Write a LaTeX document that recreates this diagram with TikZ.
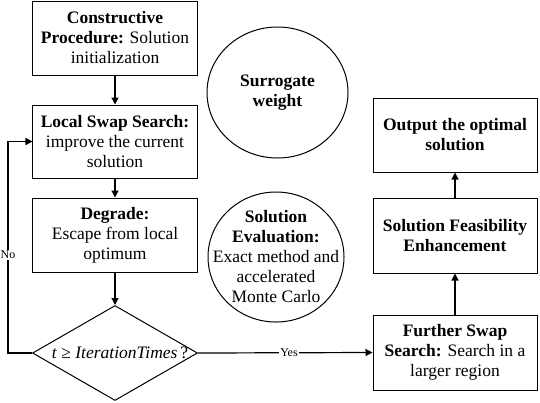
\documentclass[tikz,border=0pt]{standalone}
\usepackage{fontspec}
\setmainfont{Liberation Serif}
\usetikzlibrary{shapes.geometric,arrows.meta}
\begin{document}
\begin{tikzpicture}[x=1bp,y=-1bp,
  every node/.style={font=\fontsize{17.5bp}{20bp}\selectfont, align=center, inner sep=0pt},
  box/.style={draw, line width=1bp, minimum width=164bp},
  oval/.style={draw, line width=1bp, ellipse},
  conn/.style={line width=1.2bp, -{Triangle[length=7bp,width=7bp]}},
  lab/.style={font=\fontsize{12bp}{14bp}\selectfont, fill=white, inner sep=1bp}
]
\useasboundingbox (0,0) rectangle (540,402);
% left column
\node[box, minimum height=74bp] (b1) at (115,38) {\textbf{Constructive}\\\textbf{Procedure:} Solution\\initialization};
\node[box, minimum height=73bp] (b2) at (115,141.5) {\textbf{Local Swap Search:}\\improve the current\\solution};
\node[box, minimum height=74bp] (b3) at (115,235) {\textbf{Degrade:}\\Escape from local\\optimum};
\node[draw, line width=1bp, diamond, minimum width=165bp, minimum height=95bp] (dec) at (115,353) {};
\node (dect) at (120,353) {\textit{t} ≥ \textit{IterationTimes}\,?};
% middle ellipses
\node[oval, minimum width=141bp, minimum height=131bp] (sw) at (277.5,92.5) {};
\node (swt) at (277.5,92.5) {\textbf{Surrogate}\\\textbf{weight}};
\node[oval, minimum width=136bp, minimum height=130bp] (ev) at (276,257) {};
\node (evt) at (276,257) {\textbf{Solution}\\\textbf{Evaluation:}\\Exact method and\\accelerated\\Monte Carlo};
% right column
\node[box, minimum height=74bp] (out) at (455,135) {\textbf{Output the optimal}\\\textbf{solution}};
\node[box, minimum height=75bp] (fe) at (455,235.5) {\textbf{Solution Feasibility}\\\textbf{Enhancement}};
\node[box, minimum height=75bp] (fs) at (455,352.5) {\textbf{Further Swap}\\\textbf{Search:} Search in a\\larger region};
% connectors
\draw[conn] (b1) -- (b2);
\draw[conn] (b2) -- (b3);
\draw[conn] (b3) -- (dec);
\coordinate (nocorner) at (8,353);
\draw[conn] (dec.west) -- (nocorner) |- (b2.west);
\node[lab] (no) at (8,255) {No};
\draw[conn] (dec.east) -- (fs.west);
\node[lab] (yes) at (289,353) {Yes};
\draw[conn] (fs) -- (fe);
\draw[conn] (fe) -- (out);
\end{tikzpicture}
\end{document}
